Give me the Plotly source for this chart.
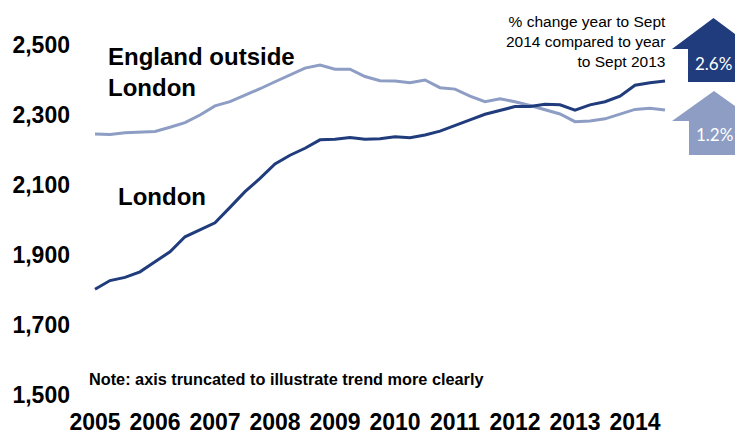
import plotly.graph_objects as go

# ---- data (rolling annual values, quarterly from Q1 2005 to Q3 2014) ----
years = ["2005", "2006", "2007", "2008", "2009", "2010", "2011", "2012", "2013", "2014"]
london = [1802, 1827, 1836, 1852, 1881, 1909, 1952, 1971, 1992, 2036,
          2081, 2119, 2160, 2185, 2205, 2229, 2231, 2236, 2231, 2232,
          2238, 2235, 2243, 2254, 2269, 2286, 2302, 2314, 2324, 2324,
          2331, 2329, 2314, 2329, 2338, 2354, 2385, 2392, 2397]
england_outside_london = [2246, 2244, 2249, 2251, 2253, 2265, 2278, 2300, 2326, 2338,
                          2356, 2375, 2395, 2415, 2434, 2443, 2431, 2431, 2410, 2398,
                          2397, 2392, 2400, 2378, 2374, 2354, 2338, 2346, 2338, 2327,
                          2316, 2303, 2281, 2283, 2289, 2302, 2316, 2319, 2314]
y_ticks = [1500, 1700, 1900, 2100, 2300, 2500]
y_tick_labels = ["1,500", "1,700", "1,900", "2,100", "2,300", "2,500"]
change_london = "2.6%"
change_england = "1.2%"

DARK = "#203c7c"
LIGHT = "#8d9dc4"

W, H = 743, 436
OFF = 8  # page body margin offset
ML, MR, MT, MB = 72, 71, 12, 49
PW, PH = W - ML - MR, H - MT - MB


def px(x):
    return (x - OFF - ML) / PW


def py(y):
    return (H - MB - (y - OFF)) / PH


quarters = list(range(len(london)))

fig = go.Figure()
fig.add_trace(go.Scatter(x=quarters, y=england_outside_london, mode="lines",
                         line=dict(color=LIGHT, width=3), name="England outside London"))
fig.add_trace(go.Scatter(x=quarters, y=london, mode="lines",
                         line=dict(color=DARK, width=3), name="London"))

FONT = "Liberation Sans, Arial, sans-serif"

fig.update_layout(
    width=W, height=H,
    margin=dict(l=ML, r=MR, t=MT, b=MB, pad=0, autoexpand=False),
    paper_bgcolor="white", plot_bgcolor="white",
    showlegend=False,
    xaxis=dict(range=[-1, 39], tickvals=[4 * i for i in range(len(years))], ticktext=years,
               showgrid=False, zeroline=False, showline=False, ticks="", automargin=False,
               tickfont=dict(family=FONT, size=23, color="black", weight="bold"),
               ticklabelstandoff=11),
    yaxis=dict(range=[1500, 1500 + PH / 0.35], tickvals=y_ticks, ticktext=y_tick_labels,
               showgrid=False, zeroline=False, showline=False, ticks="", automargin=False,
               tickfont=dict(family=FONT, size=23, color="black", weight="bold"),
               ticklabelstandoff=9),
)


def arrow(x0, x1, hx0, hx1, tip_y, shoulder_y, bottom_y, color):
    tip_x = (hx0 + hx1) / 2
    pts = [(x0, bottom_y), (x0, shoulder_y), (hx0, shoulder_y), (tip_x, tip_y),
           (hx1, shoulder_y), (x1, shoulder_y), (x1, bottom_y)]
    path = "M " + " L ".join(f"{px(a):.5f},{py(b):.5f}" for a, b in pts) + " Z"
    fig.add_shape(type="path", path=path, xref="paper", yref="paper",
                  fillcolor=color, line=dict(width=0), layer="above")


arrow(688, 739, 672, 755, 18, 49, 82, DARK)
arrow(689, 740, 672, 756, 91, 121, 155, LIGHT)

ann = []
ann.append(dict(x=px(713), y=py(63), text=change_london, showarrow=False,
                font=dict(family="Lato, sans-serif", size=17, color="white"),
                xanchor="center", yanchor="middle"))
ann.append(dict(x=px(714), y=py(134), text=change_england, showarrow=False,
                font=dict(family="Lato, sans-serif", size=17, color="white"),
                xanchor="center", yanchor="middle"))
ann.append(dict(x=px(668), y=py(41), text="% change year to Sept<br>2014 compared to year<br>to Sept 2013",
                showarrow=False, align="right", xanchor="right", yanchor="middle",
                font=dict(family=FONT, size=15.5, color="black")))
ann.append(dict(x=px(106), y=py(72), text="England outside<br>London", showarrow=False,
                align="left", xanchor="left", yanchor="middle",
                font=dict(family=FONT, size=24, color="black", weight="bold")))
ann.append(dict(x=px(116), y=py(196), text="London", showarrow=False,
                align="left", xanchor="left", yanchor="middle",
                font=dict(family=FONT, size=24, color="black", weight="bold")))
ann.append(dict(x=px(87), y=py(379), text="Note: axis truncated to illustrate trend more clearly",
                showarrow=False, align="left", xanchor="left", yanchor="middle",
                font=dict(family=FONT, size=16.3, color="black", weight="bold")))
for a in ann:
    a.update(xref="paper", yref="paper")
fig.update_layout(annotations=ann)

fig.write_html("out.html")
